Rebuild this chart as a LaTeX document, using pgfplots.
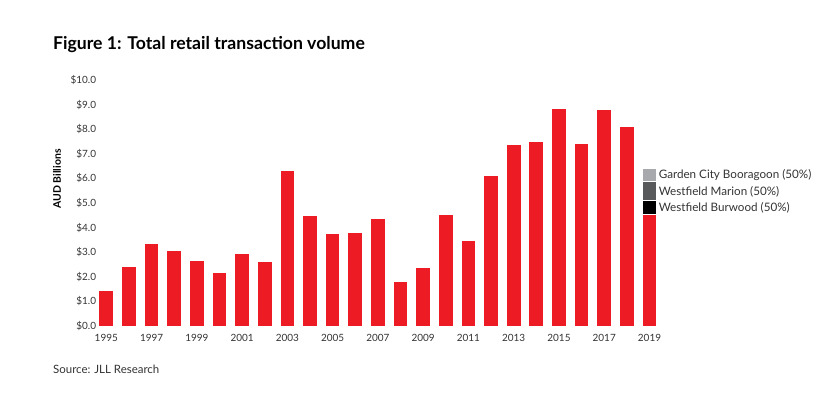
\documentclass[border=0pt]{standalone}
\usepackage{pgfplots}
\pgfplotsset{compat=1.18}
\usepackage{fontspec}
\setmainfont{Lato}
\definecolor{jllred}{HTML}{ED1C24}
\definecolor{lgray}{HTML}{A7A9AC}
\definecolor{dgray}{HTML}{58595B}
\definecolor{txt}{HTML}{333333}
\begin{document}
\begin{tikzpicture}[x=1bp,y=1bp]
\path[use as bounding box] (0,0) rectangle (831,393);
\node[anchor=west,font=\fontsize{17.7}{20}\selectfont\bfseries,text=black,inner sep=0] at (53,348) {Figure 1: Total retail transaction volume};
\node[anchor=west,font=\fontsize{11.5}{13}\selectfont,text=txt,inner sep=0] at (53,24) {Source: JLL Research};
\node[rotate=90,font=\fontsize{10.5}{12}\selectfont\bfseries,text=black,inner sep=0] at (57,214) {AUD Billions};
\begin{axis}[
  at={(97.25bp,67bp)}, anchor=south west,
  scale only axis, width=561.3bp, height=246bp,
  xmin=1994.6, xmax=2019.4, ymin=0, ymax=10,
  axis line style={draw=none},
  major tick length=0pt,
  xtick={1995,1997,...,2019},
  xticklabels={1995,1997,1999,2001,2003,2005,2007,2009,2011,2013,2015,2017,2019},
  ytick={0,1,...,10},
  yticklabels={\$0.0,\$1.0,\$2.0,\$3.0,\$4.0,\$5.0,\$6.0,\$7.0,\$8.0,\$9.0,\$10.0},
  tick label style={font=\fontsize{10}{12}\selectfont, text=txt},
  yticklabel style={inner sep=1pt},
  xticklabel style={inner sep=1pt, yshift=-7bp},
  ybar, bar shift=0pt, bar width=0.65,
  clip=false,
]
\addplot[fill=lgray, draw=white, line width=1bp] coordinates {(2019,6.42)};
\addplot[fill=dgray, draw=white, line width=1bp] coordinates {(2019,5.87)};
\addplot[fill=black, draw=white, line width=1bp] coordinates {(2019,5.09)};
\addplot[fill=jllred, draw=white, line width=1bp] coordinates {
(1995,1.46) (1996,2.40) (1997,3.37) (1998,3.05) (1999,2.68) (2000,2.17)
(2001,2.93) (2002,2.64) (2003,6.34) (2004,4.51) (2005,3.74) (2006,3.82)
(2007,4.39) (2008,1.79) (2009,2.36) (2010,4.55) (2011,3.46) (2012,6.10)
(2013,7.36) (2014,7.48) (2015,8.86) (2016,7.40) (2017,8.82) (2018,8.13)
(2019,4.54)};
\node[anchor=west,font=\fontsize{11.7}{13}\selectfont,text=txt,inner sep=0] at (axis cs:2019.4,6.14) {Garden City Booragoon (50\%)};
\node[anchor=west,font=\fontsize{11.7}{13}\selectfont,text=txt,inner sep=0] at (axis cs:2019.4,5.47) {Westfield Marion (50\%)};
\node[anchor=west,font=\fontsize{11.7}{13}\selectfont,text=txt,inner sep=0] at (axis cs:2019.4,4.82) {Westfield Burwood (50\%)};
\end{axis}
\end{tikzpicture}
\end{document}
